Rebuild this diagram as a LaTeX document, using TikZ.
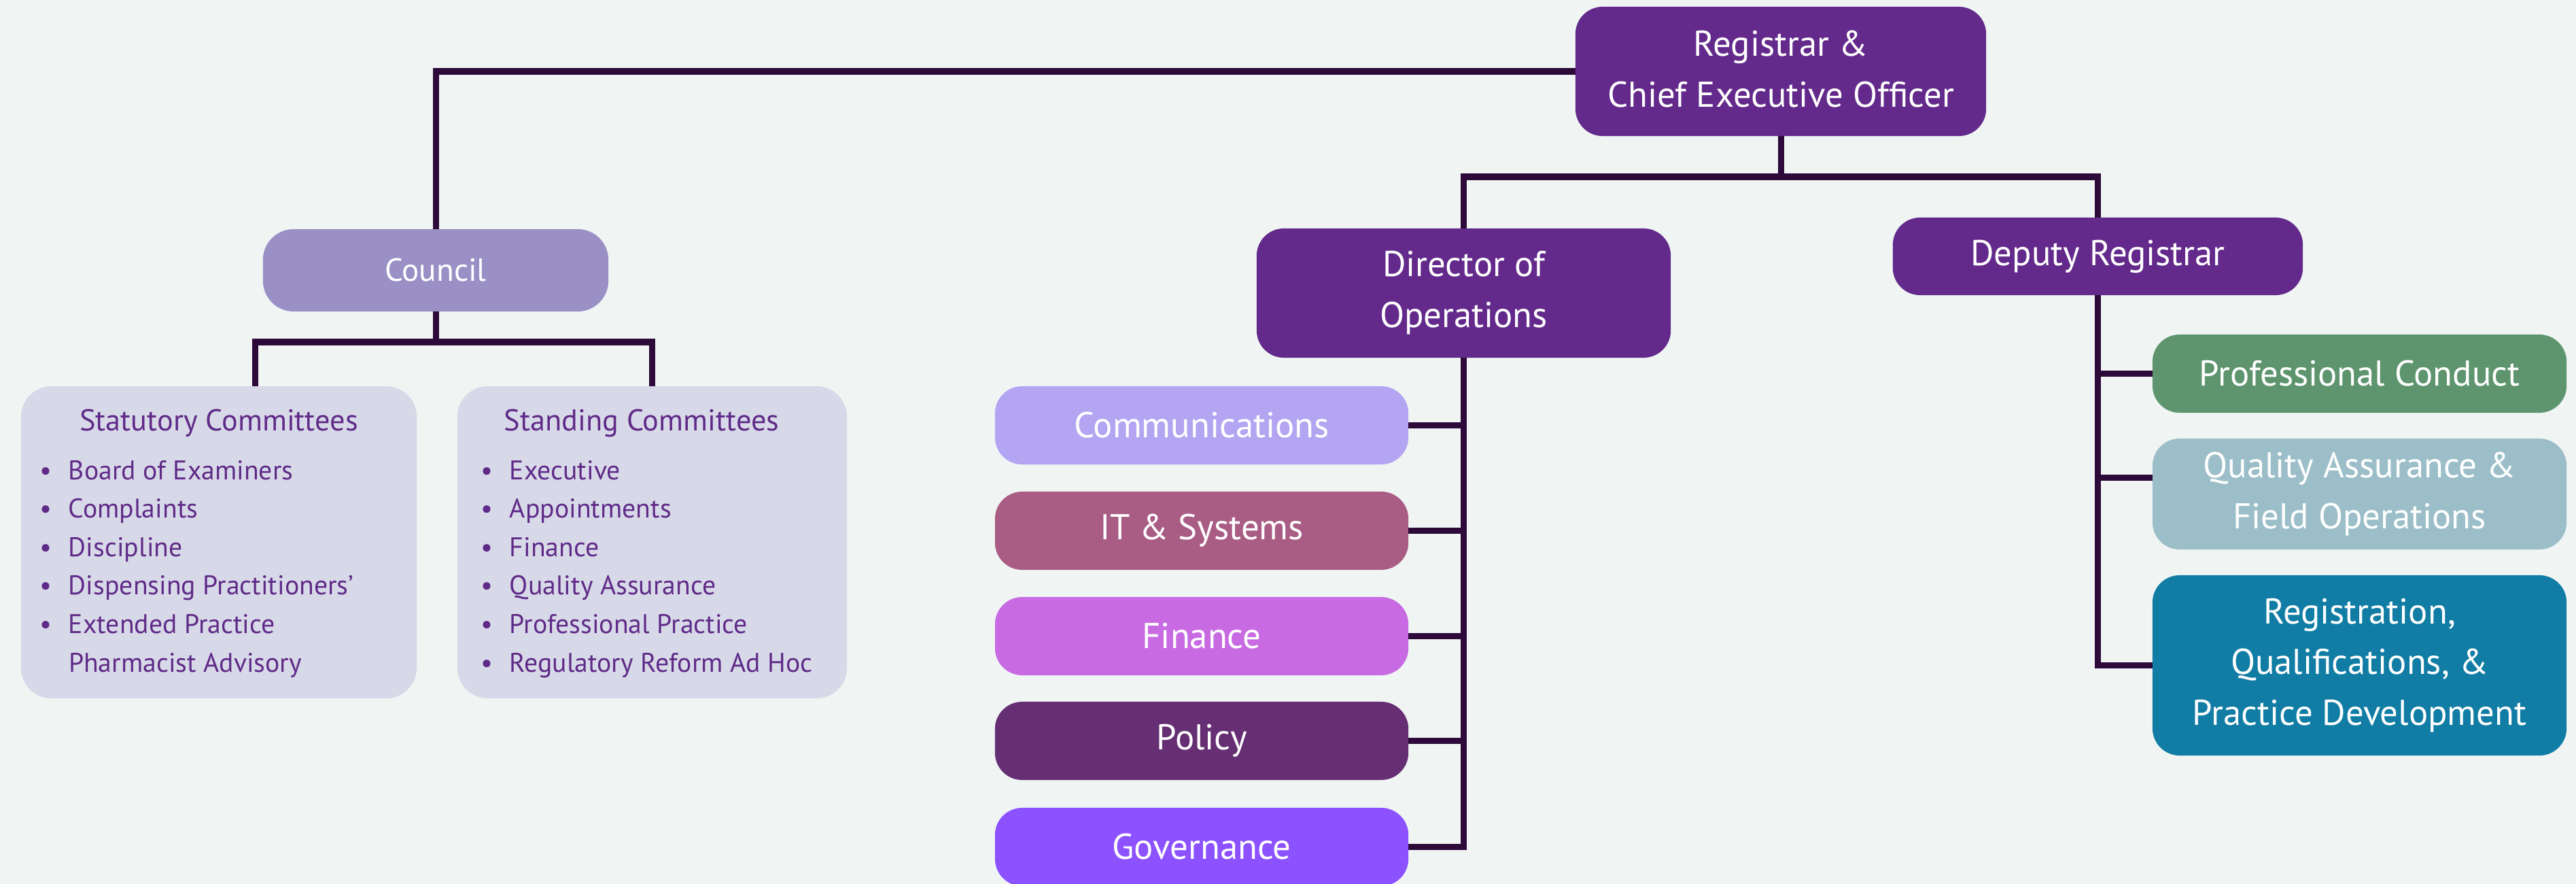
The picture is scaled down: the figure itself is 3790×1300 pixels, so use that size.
\documentclass[tikz,border=0pt]{standalone}
\usepackage{fontspec}
\setmainfont{PT Sans}
\definecolor{bgc}{HTML}{F0F5F4}
\definecolor{deep}{HTML}{632A8C}
\definecolor{councilc}{HTML}{9A90C6}
\definecolor{committ}{HTML}{D8D9E8}
\definecolor{committext}{HTML}{5F2A88}
\definecolor{commc}{HTML}{B3A5F2}
\definecolor{itc}{HTML}{A95C84}
\definecolor{finc}{HTML}{C86BE3}
\definecolor{polc}{HTML}{662E73}
\definecolor{govc}{HTML}{8C52FF}
\definecolor{pcc}{HTML}{5E956E}
\definecolor{qac}{HTML}{9BBEC8}
\definecolor{regc}{HTML}{117DA5}
\definecolor{linkc}{HTML}{2D0A3A}
\begin{document}
\begin{tikzpicture}[x=0.01cm,y=-0.01cm,
  every node/.style={inner sep=0pt,outer sep=0pt},
  box/.style={rectangle,rounded corners=0.4cm,text=white,align=center,
    font=\fontsize{15}{21.3}\selectfont},
  unitbox/.style={box,minimum width=6.08cm,minimum height=1.15cm},
  cbox/.style={rectangle,rounded corners=0.45cm,fill=committ},
  ctitle/.style={text=committext,font=\fontsize{12.6}{15}\selectfont,anchor=base},
  item/.style={text=committext,font=\fontsize{11.3}{13}\selectfont,anchor=base west},
  link/.style={draw=linkc,line width=0.09cm,line join=miter},
]
% canvas
\fill[bgc] (0,0) rectangle (3790,1300);
\useasboundingbox (0,0) rectangle (3790,1300);

% top of the hierarchy
\node[box,fill=deep,minimum width=6.04cm,minimum height=1.90cm] (reg) at (2620,105)
  {\raisebox{0.05cm}{\begin{tabular}{@{}c@{}}Registrar \&\\Chief Executive Officer\end{tabular}}};

% council branch
\node[box,fill=councilc,rounded corners=0.45cm,minimum width=5.08cm,minimum height=1.21cm,
  font=\fontsize{13.4}{16}\selectfont] (council) at (641,397.5) {Council};
\node[cbox,minimum width=5.82cm,minimum height=4.59cm] (stat) at (322,797.5) {};
\node[cbox,minimum width=5.73cm,minimum height=4.59cm] (stand) at (959.5,797.5) {};
\node[ctitle] (stattitle) at (322,633) {Statutory Committees};
\node[ctitle] (standtitle) at (944,633) {Standing Committees};
\foreach \t [count=\i] in {Board of Examiners,Complaints,Discipline,Dispensing Practitioners’,Extended Practice}
  \node[item] (st\i) at (101,{705+56.6*(\i-1)}) {\llap{•\hspace{0.25cm}}\t};
\node[item] (st6) at (101,988) {Pharmacist Advisory};
\foreach \t [count=\i] in {Executive,Appointments,Finance,Quality Assurance,Professional Practice,Regulatory Reform Ad Hoc}
  \node[item] (sd\i) at (750,{705+56.6*(\i-1)}) {\llap{•\hspace{0.25cm}}\t};

% operations branch
\node[box,fill=deep,minimum width=6.09cm,minimum height=1.90cm] (dir) at (2153.5,431)
  {Director of\\Operations};
\node[unitbox,fill=commc] (comm) at (1768,625.5) {Communications};
\node[unitbox,fill=itc]   (it)   at (1768,780.5) {IT \& Systems};
\node[unitbox,fill=finc]  (fin)  at (1768,935.5) {Finance};
\node[unitbox,fill=polc]  (pol)  at (1768,1089.5) {Policy};
\node[unitbox,fill=govc]  (gov)  at (1768,1245.5) {Governance};

% deputy branch
\node[box,fill=deep,minimum width=6.03cm,minimum height=1.14cm] (dep) at (3086.5,377)
  {Deputy Registrar};
\node[unitbox,fill=pcc,minimum width=6.09cm] (pc) at (3471.5,549.5) {Professional Conduct};
\node[unitbox,fill=qac,minimum width=6.09cm,minimum height=1.63cm] (qa) at (3471.5,726.5)
  {Quality Assurance \&\\Field Operations};
\node[unitbox,fill=regc,minimum width=6.09cm,minimum height=2.65cm] (rqp) at (3471.5,978.5)
  {Registration,\\Qualifications, \&\\Practice Development};

% connectors
\coordinate (topbus) at (2620,260);
\coordinate (cbus) at (641,503);
\coordinate (statin) at (375,568);
\coordinate (qain) at ([yshift=0.24cm]qa.west);

\draw[link] (reg.west) -| (council.north);
\draw[link] (reg.south) -- (topbus);
\draw[link] (dir.north) |- (topbus) -| (dep.north);

\draw[link] (council.south) -- (cbus);
\draw[link] (statin) |- (cbus) -| (stand.north);

\draw[link] (dir.south) |- (gov.east);
\foreach \n in {comm,it,fin,pol}
  \draw[link] (\n.east) -- (\n.east -| dir.south);

\draw[link] (dep.south) |- (rqp.west);
\draw[link] (pc.west) -- (pc.west -| dep.south);
\draw[link] (qain) -- (qain -| dep.south);
\end{tikzpicture}
\end{document}
